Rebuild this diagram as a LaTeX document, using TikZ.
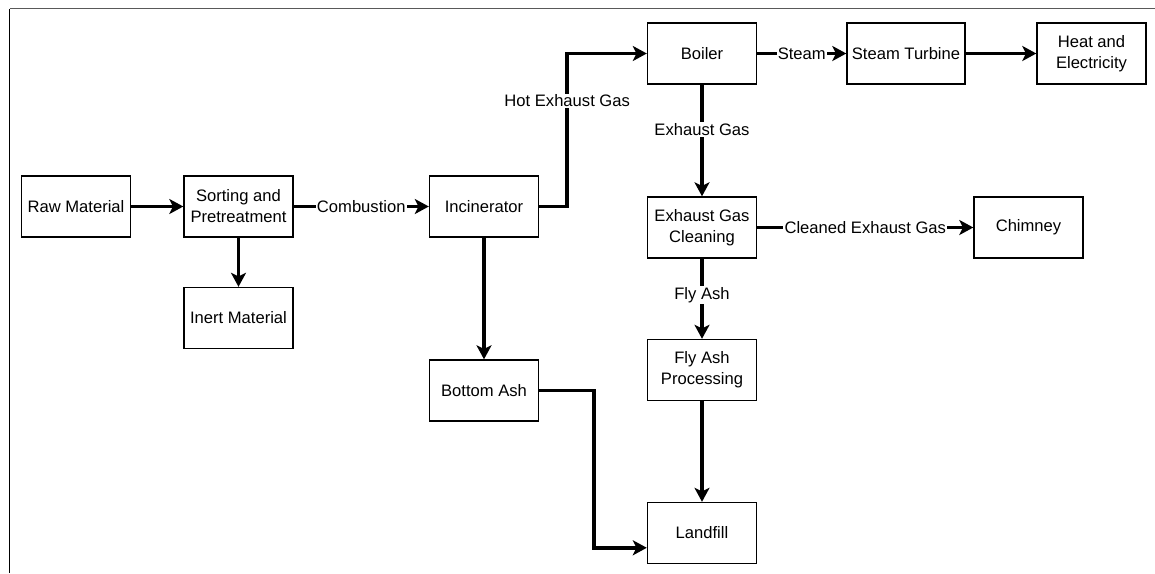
\documentclass[tikz,border=0pt]{standalone}
\usepackage{fontspec}
\setmainfont{Liberation Sans}
\usetikzlibrary{arrows.meta}

\begin{document}
\begin{tikzpicture}[x=0.5pt,y=-0.5pt,
  box/.style={draw,line width=0.7pt,minimum width=54.5pt,minimum height=30.5pt,align=center,inner sep=1pt,font=\fontsize{8.3}{10.5}\selectfont},
  flow/.style={line width=1.8pt,-{Stealth[length=7pt,width=7.5pt,inset=1.8pt]}},
  lbl/.style={fill=white,inner sep=0.6pt,font=\fontsize{8.3}{10}\selectfont}]
\useasboundingbox (0,0) rectangle (1155,573);
\draw[black!65,line width=0.7pt] (1155,8.5) -- (9.5,8.5);
\draw[line width=0.7pt] (9.5,8.5) -- (9.5,573);

\node[box] (raw) at (76,206.5) {Raw Material};
\node[box] (sort) at (238.5,206.5) {Sorting and\\Pretreatment};
\node[box] (inert) at (238.5,318) {Inert Material};
\node[box] (inc) at (484,206.5) {Incinerator};
\node[box] (bash) at (484,390.5) {Bottom Ash};
\node[box] (boil) at (702,53.5) {Boiler};
\node[box,minimum width=59pt] (turb) at (906,53.5) {Steam Turbine};
\node[box] (heat) at (1091.5,53.5) {Heat and\\Electricity};
\node[box] (egc) at (702,227.5) {Exhaust Gas\\Cleaning};
\node[box] (chim) at (1028.5,227.5) {Chimney};
\node[box] (fap) at (702,370) {Fly Ash\\Processing};
\node[box] (land) at (702,533) {Landfill};

\draw[flow] (raw) -- (sort);
\draw[flow] (sort) -- node[lbl]{Combustion} (inc);
\draw[flow] (sort) -- (inert);
\draw[flow] (inc) -- (bash);
\coordinate (hx) at ([xshift=14pt]inc.east);
\draw[flow] (inc) -- (hx) -- node[lbl,pos=0.69]{Hot Exhaust Gas} (hx |- boil.west) -- (boil);
\draw[flow] (boil) -- node[lbl]{Steam} (turb);
\draw[flow] (turb) -- (heat);
\draw[flow] (boil) -- node[lbl,pos=0.4]{Exhaust Gas} (egc);
\draw[flow] (egc) -- node[lbl]{Cleaned Exhaust Gas} (chim);
\draw[flow] (egc) -- node[lbl,pos=0.45]{Fly Ash} (fap);
\draw[flow] (fap) -- (land);
\coordinate (bx) at ([xshift=27.5pt]bash.east);
\draw[flow] (bash) -- (bx) |- (land.195);
\end{tikzpicture}
\end{document}
